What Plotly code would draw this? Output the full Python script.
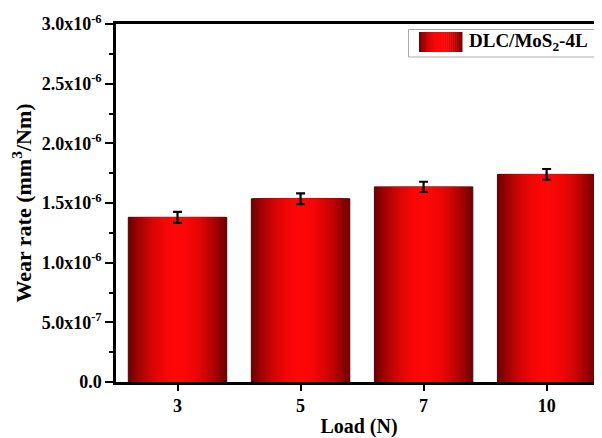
import plotly.graph_objects as go

# ---- data ----
loads = ["3", "5", "7", "10"]
wear_rate = [1.38e-6, 1.535e-6, 1.635e-6, 1.74e-6]
wear_err = [4.6e-8, 4.5e-8, 4.3e-8, 4.5e-8]
series_name = "DLC/MoS<sub>2</sub>-4L"
ytick_vals = [0, 0.5e-6, 1.0e-6, 1.5e-6, 2.0e-6, 2.5e-6, 3.0e-6]
ytick_text = ["0.0", "5.0x10<sup>-7</sup>", "1.0x10<sup>-6</sup>", "1.5x10<sup>-6</sup>",
              "2.0x10<sup>-6</sup>", "2.5x10<sup>-6</sup>", "3.0x10<sup>-6</sup>"]

FONT = "Liberation Serif, Times New Roman, serif"
DARK = (110, 0, 0)
BRIGHT = (255, 8, 8)

# page body has an 8px margin: figure pixel = reference pixel - 8
OFF = 8
FIG_W, FIG_H = 602 - OFF, 438 - OFF
PLOT_L, PLOT_T, PLOT_B = 116 - OFF, 24 - OFF, 382 - OFF


def grad_color(t):
    # t: 0 at centre, 1 at edge
    w = 1 - t ** 2.0
    c = [int(DARK[i] + (BRIGHT[i] - DARK[i]) * w) for i in range(3)]
    return f"rgb({c[0]},{c[1]},{c[2]})"


fig = go.Figure()
N = 40
BAR_W = 0.8
for k in range(N):
    t = 1 - k / N
    last = k == N - 1
    fig.add_trace(go.Bar(
        x=loads, y=wear_rate, width=BAR_W * t,
        marker=dict(color=grad_color(t),
                    line=dict(color="rgb(80,0,0)" if k == 0 else grad_color(t),
                              width=1 if k == 0 else 0)),
        error_y=dict(type="data", array=wear_err, color="black", thickness=2.2, width=4.5,
                     visible=last),
        showlegend=False, hoverinfo="skip" if not last else None,
    ))

# ---- manual legend (gradient swatch), positions in reference pixels ----
PW = FIG_W - PLOT_L
PH = PLOT_B - PLOT_T


def px2paper_x(px):
    return (px - OFF - PLOT_L) / PW


def px2paper_y(py):
    return (PLOT_B - (py - OFF)) / PH


shapes = []
shapes.append(dict(type="rect", xref="paper", yref="paper",
                   x0=px2paper_x(408.5), x1=px2paper_x(600.5),
                   y0=px2paper_y(57), y1=px2paper_y(29.5),
                   line=dict(color="rgb(170,170,170)", width=1), fillcolor="white", layer="above"))
sw_x0, sw_x1, sw_y0, sw_y1 = 419, 462, 32, 52
M = 22
for j in range(M):
    a = sw_x0 + (sw_x1 - sw_x0) * j / M
    b = sw_x0 + (sw_x1 - sw_x0) * (j + 1) / M
    mid = (j + 0.5) / M
    t = abs(mid - 0.5) * 2
    shapes.append(dict(type="rect", xref="paper", yref="paper",
                       x0=px2paper_x(a), x1=px2paper_x(b) + 0.001,
                       y0=px2paper_y(sw_y1), y1=px2paper_y(sw_y0),
                       line=dict(width=0), fillcolor=grad_color(t), layer="above"))

fig.update_layout(
    width=FIG_W, height=FIG_H,
    margin=dict(l=PLOT_L, r=0, t=PLOT_T, b=FIG_H - PLOT_B, autoexpand=False),
    paper_bgcolor="white", plot_bgcolor="white",
    barmode="overlay",
    font=dict(family=FONT, size=18, color="black"),
    shapes=shapes,
    annotations=[dict(text=f"<b>{series_name}</b>", xref="paper", yref="paper",
                      x=px2paper_x(467), y=px2paper_y(42), xanchor="left", yanchor="middle",
                      showarrow=False, font=dict(family=FONT, size=19, color="black"))],
    xaxis=dict(
        type="category", range=[-0.5, 3.45], automargin=False,
        showline=True, linecolor="black", linewidth=2.5, mirror=True,
        ticks="outside", ticklen=6, tickwidth=1.5, tickcolor="black",
        tickfont=dict(family=FONT, size=18, color="black"),
        tickvals=loads, ticktext=[f"<b>{v}</b>" for v in loads],
        showgrid=False, zeroline=False,
        title=dict(text="<b>Load (N)</b>", font=dict(family=FONT, size=20, color="black"), standoff=6),
    ),
    yaxis=dict(
        range=[0, 3.0e-6], automargin=False,
        showline=True, linecolor="black", linewidth=2.5,
        ticks="outside", ticklen=8, tickwidth=2, tickcolor="black",
        tickmode="array", tickvals=ytick_vals, ticktext=[f"<b>{t}</b>" for t in ytick_text],
        tickfont=dict(family=FONT, size=18, color="black"),
        minor=dict(tickmode="linear", tick0=0, dtick=0.25e-6, ticks="outside",
                   ticklen=4, tickwidth=2, tickcolor="black", showgrid=False),
        showgrid=False, zeroline=False,
        title=dict(text="<b>Wear rate (mm<sup>3</sup>/Nm)</b>",
                   font=dict(family=FONT, size=22, color="black"), standoff=6),
    ),
)

fig.write_html("out.html")
